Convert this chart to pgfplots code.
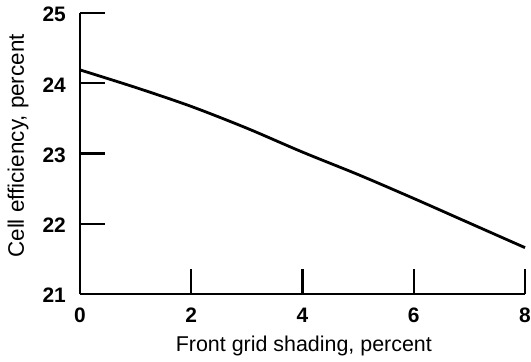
\documentclass[border=0pt]{standalone}
\usepackage{pgfplots}
\pgfplotsset{compat=1.18}
\usepackage{fontspec}
\setmainfont{Liberation Sans}
\begin{document}
\begin{tikzpicture}
\useasboundingbox (-80bp,-68bp) rectangle (451bp,294bp);
\begin{axis}[
  at={(0,0)}, anchor=south west,
  scale only axis,
  width=445bp, height=281bp,
  xmin=0, xmax=8, ymin=21, ymax=25,
  axis x line=bottom, axis y line=left,
  axis line style={line width=2.6bp, -},
  xtick={0,2,4,6,8}, ytick={21,22,23,24,25},
  tick align=inside,
  major tick length=25bp,
  tick style={line width=2.2bp, black},
  /pgf/number format/assume math mode=true,
  tick label style={font=\fontsize{21}{23}\selectfont\bfseries},
  yticklabel style={inner sep=0pt, xshift=-14bp, yshift=-1.5bp},
  xticklabel style={inner sep=0pt, yshift=-14bp},
  xlabel={Front grid shading, percent},
  ylabel={Cell efficiency, percent},
  xlabel style={font=\fontsize{21.5}{23}\selectfont, at={(axis description cs:0.503,-0.149)}, anchor=north, inner sep=0pt},
  ylabel style={font=\fontsize{22.5}{24}\selectfont, at={(axis description cs:-0.139,0.527)}, anchor=center, inner sep=0pt},
  clip=false,
]
\addplot[black, line width=2.8bp, smooth, tension=0.5] coordinates {
 (0,24.19) (1,23.94) (2,23.67) (3,23.36) (4,23.02) (5,22.70) (6,22.36) (7,22.01) (8,21.66)
};
\end{axis}
\end{tikzpicture}
\end{document}
